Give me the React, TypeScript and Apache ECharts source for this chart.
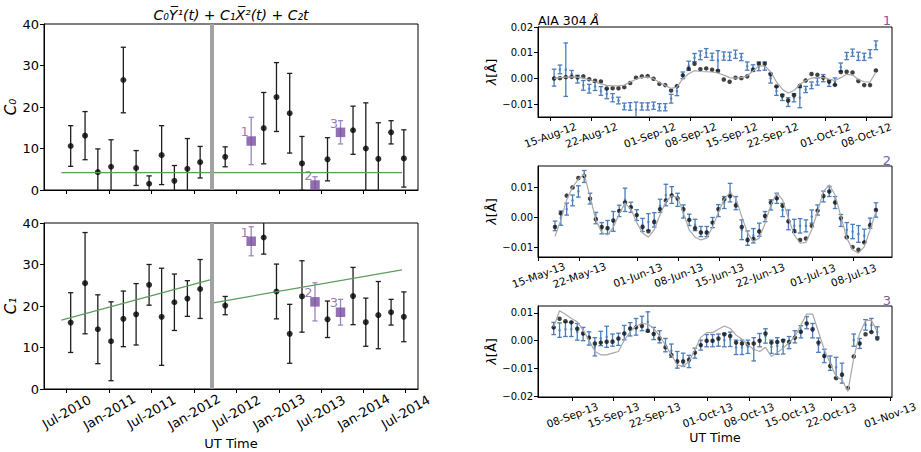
import React, { useEffect, useRef } from 'react';
import * as echarts from 'echarts';

// ---------- Long-term fit coefficients (left panels) ----------
const FIT_DATES = [
  '2010-07-18', '2010-09-18', '2010-11-12', '2011-01-08', '2011-03-02', '2011-04-26',
  '2011-06-21', '2011-08-14', '2011-10-08', '2011-12-03', '2012-01-27', '2012-05-14',
  '2012-10-27', '2012-12-21', '2013-02-16', '2013-04-10', '2013-07-29', '2013-11-16',
  '2014-01-10', '2014-03-05', '2014-04-29', '2014-06-23',
];
const C0 = [10.6, 13.1, 4.3, 5.6, 26.5, 5.3, 1.5, 8.4, 2.2, 5.1, 6.7, 8.0, 14.9, 22.4, 18.5, 6.4, 7.4, 14.4, 10.0, 7.5, 13.9, 7.6];
const C0_ERR = [4.9, 5.8, 5.6, 6.5, 7.9, 4.2, 1.9, 7.1, 3.7, 7.3, 3.8, 2.4, 8.6, 8.3, 9.6, 6.5, 5.2, 5.8, 11.0, 8.7, 2.8, 6.9];
const C1 = [16.0, 25.5, 14.4, 11.5, 16.9, 18.0, 25.1, 17.4, 20.9, 21.8, 24.1, 20.1, 36.5, 23.5, 13.3, 22.3, 16.8, 22.4, 16.1, 17.8, 18.5, 17.4];
const C1_ERR = [7.2, 12.2, 8.3, 9.5, 6.7, 7.4, 4.9, 11.7, 6.8, 4.3, 7.1, 2.2, 4.0, 6.6, 7.1, 8.6, 4.4, 6.9, 5.8, 8.1, 3.1, 6.0];

// highlighted intervals 1, 2, 3
const SEL_DATES = ['2012-09-03', '2013-06-05', '2013-09-23'];
const SEL_TAGS = ['1', '2', '3'];
const SEL_C0 = [11.8, 1.2, 13.9];
const SEL_C0_ERR = [5.7, 2.0, 2.8];
const SEL_C1 = [35.6, 21.0, 18.5];
const SEL_C1_ERR = [3.5, 4.6, 3.1];

// linear trends before / after the break
const TREND_DATES = [['2010-06-08', '2012-03-09'], ['2012-03-17', '2014-06-15']];
const TREND_C0 = [[4.2, 4.2], [4.2, 4.2]];
const TREND_C1 = [[16.6, 26.3], [20.7, 28.7]];
const BREAK_DATE = '2012-03-15';

const HALF_YEAR_TICKS = [
  '2010-07-01', '2011-01-01', '2011-07-01', '2012-01-01', '2012-07-01',
  '2013-01-01', '2013-07-01', '2014-01-01', '2014-07-01',
];

// ---------- Daily wavelength shifts (right panels) ----------
const P1_TICKS = ['2012-08-15', '2012-08-22', '2012-09-01', '2012-09-08', '2012-09-15', '2012-09-22', '2012-10-01', '2012-10-08'];
const P1_OBS = [0.0000, 0.0001, 0.0005, 0.0006, 0.0005, 0.0008, -0.0003, -0.0009, -0.0012, -0.0039,
  -0.0038, -0.0038, -0.0034, -0.0018, 0.0003, 0.0008, 0.0009, -0.0001, -0.0021, -0.0026,
  -0.0047, -0.0030, 0.0012, 0.0038, 0.0057, 0.0036, 0.0039, 0.0034, 0.0029, -0.0004,
  -0.0013, 0.0003, 0.0001, 0.0008, 0.0034, 0.0057, 0.0057, 0.0016, -0.0031, -0.0066,
  -0.0086, -0.0065, -0.0029, -0.0008, 0.0017, 0.0014, 0.0003, -0.0012, -0.0025, 0.0025,
  0.0026, 0.0023, -0.0010, -0.0026, -0.0026, 0.0031];
const P1_MODEL = [0.0000, 0.0003, 0.0005, 0.0006, 0.0005, 0.0001, -0.0005, -0.0013, -0.0021, -0.0027,
  -0.0029, -0.0029, -0.0026, -0.0014, -0.0003, 0.0004, 0.0005, -0.0001, -0.0016, -0.0027,
  -0.0039, -0.0034, -0.0001, 0.0018, 0.0030, 0.0027, 0.0026, 0.0025, 0.0021, 0.0013,
  0.0003, 0.0001, 0.0003, 0.0010, 0.0029, 0.0049, 0.0049, 0.0026, -0.0013, -0.0042,
  -0.0057, -0.0047, -0.0023, -0.0008, 0.0001, 0.0004, 0.0003, -0.0003, -0.0008, 0.0003,
  0.0016, 0.0013, -0.0004, -0.0013, -0.0014, 0.0025];
const P1_MEAS = [0.0003, 0.0035, 0.0034, 0.0018, -0.0003, -0.0027, -0.0040, -0.0031, -0.0049, -0.0060,
  -0.0075, -0.0086, -0.0109, -0.0109, -0.0121, -0.0109, -0.0109, -0.0106, -0.0112, -0.0112,
  -0.0079, -0.0049, 0.0012, 0.0049, 0.0081, 0.0090, 0.0099, 0.0084, 0.0070, 0.0087,
  0.0086, 0.0094, 0.0083, 0.0048, 0.0040, 0.0047, 0.0048, 0.0001, -0.0049, -0.0074,
  -0.0092, -0.0075, -0.0075, -0.0043, -0.0027, -0.0012, 0.0001, -0.0018, -0.0012, 0.0044,
  0.0087, 0.0100, 0.0086, 0.0084, 0.0096, 0.0129];
const P1_MEAS_ERR = [0.0033, 0.0017, 0.0104, 0.0013, 0.0015, 0.0019, 0.0017, 0.0016, 0.0017, 0.0019,
  0.0016, 0.0013, 0.0013, 0.0015, 0.0029, 0.0014, 0.0014, 0.0014, 0.0014, 0.0014,
  0.0017, 0.0018, 0.0013, 0.0018, 0.0016, 0.0017, 0.0017, 0.0014, 0.0038, 0.0016,
  0.0016, 0.0016, 0.0014, 0.0016, 0.0013, 0.0017, 0.0016, 0.0019, 0.0017, 0.0012,
  0.0017, 0.0016, 0.0039, 0.0012, 0.0013, 0.0014, 0.0014, 0.0013, 0.0014, 0.0016,
  0.0014, 0.0014, 0.0016, 0.0014, 0.0016, 0.0017];

const P2_TICKS = ['2013-05-15', '2013-05-22', '2013-06-01', '2013-06-08', '2013-06-15', '2013-06-22', '2013-07-01', '2013-07-08'];
const P2_OBS = [-0.0033, 0.0013, 0.0072, 0.0099, 0.0131, 0.0138, 0.0062, -0.0007, -0.0033, -0.0037,
  -0.0011, 0.0021, 0.0049, 0.0033, 0.0007, -0.0033, -0.0047, -0.0016, 0.0027, 0.0056,
  0.0073, 0.0063, 0.0027, -0.0009, -0.0037, -0.0051, -0.0051, -0.0018, 0.0027, 0.0060,
  0.0071, 0.0039, -0.0033, -0.0076, -0.0073, -0.0048, 0.0004, 0.0049, 0.0063, 0.0038,
  -0.0014, -0.0046, -0.0076, -0.0071, -0.0029, 0.0022, 0.0071, 0.0086, 0.0049, -0.0003,
  -0.0067, -0.0100, -0.0109, -0.0084, -0.0027, 0.0024];
const P2_MODEL = [-0.0064, -0.0009, 0.0058, 0.0100, 0.0127, 0.0144, 0.0069, -0.0009, -0.0051, -0.0059,
  -0.0033, 0.0011, 0.0047, 0.0027, -0.0018, -0.0053, -0.0067, -0.0042, 0.0008, 0.0052,
  0.0071, 0.0067, 0.0013, -0.0042, -0.0067, -0.0076, -0.0070, -0.0033, 0.0016, 0.0060,
  0.0082, 0.0063, 0.0002, -0.0053, -0.0081, -0.0070, -0.0020, 0.0041, 0.0082, 0.0058,
  -0.0003, -0.0059, -0.0087, -0.0084, -0.0042, 0.0019, 0.0086, 0.0108, 0.0074, 0.0002,
  -0.0070, -0.0109, -0.0120, -0.0098, -0.0042, 0.0019];
const P2_MEAS = [-0.0029, -0.0003, 0.0027, 0.0056, 0.0086, 0.0136, 0.0062, -0.0003, -0.0037, -0.0033,
  -0.0014, 0.0021, 0.0058, 0.0033, 0.0007, -0.0026, -0.0016, -0.0009, 0.0038, 0.0074,
  0.0074, 0.0058, 0.0019, -0.0009, -0.0026, -0.0048, -0.0048, -0.0018, 0.0022, 0.0049,
  0.0082, 0.0047, -0.0042, -0.0070, -0.0062, -0.0042, 0.0002, 0.0041, 0.0063, 0.0024,
  -0.0009, -0.0029, -0.0029, -0.0029, 0.0002, 0.0024, 0.0069, 0.0086, 0.0049, -0.0011,
  -0.0042, -0.0048, -0.0056, -0.0062, -0.0020, 0.0024];
const P2_MEAS_ERR = [0.0016, 0.0024, 0.0020, 0.0018, 0.0019, 0.0020, 0.0018, 0.0019, 0.0019, 0.0022,
  0.0033, 0.0019, 0.0039, 0.0017, 0.0018, 0.0022, 0.0028, 0.0024, 0.0022, 0.0036,
  0.0028, 0.0022, 0.0022, 0.0019, 0.0019, 0.0017, 0.0017, 0.0017, 0.0020, 0.0020,
  0.0031, 0.0022, 0.0033, 0.0024, 0.0024, 0.0022, 0.0017, 0.0017, 0.0017, 0.0022,
  0.0033, 0.0022, 0.0024, 0.0020, 0.0022, 0.0017, 0.0018, 0.0017, 0.0020, 0.0020,
  0.0024, 0.0024, 0.0028, 0.0022, 0.0017, 0.0024];

const P3_TICKS = ['2013-09-08', '2013-09-15', '2013-09-22', '2013-10-01', '2013-10-08', '2013-10-15', '2013-10-22', '2013-11-01'];
const P3_OBS = [0.0048, 0.0079, 0.0070, 0.0066, 0.0043, 0.0026, 0.0011, -0.0010, -0.0007, -0.0004,
  -0.0004, 0.0008, 0.0026, 0.0044, 0.0048, 0.0053, 0.0036, 0.0024, 0.0008, -0.0024,
  -0.0051, -0.0075, -0.0075, -0.0069, -0.0043, -0.0016, 0.0000, 0.0000, 0.0008, 0.0023,
  0.0017, -0.0007, -0.0010, -0.0012, -0.0010, 0.0000, 0.0026, -0.0007, -0.0005, 0.0000,
  -0.0005, 0.0011, 0.0032, 0.0062, 0.0041, -0.0007, -0.0055, -0.0091, -0.0135, -0.0123,
  -0.0171, -0.0057, -0.0010, 0.0023, 0.0031, 0.0008];
const P3_MODEL = [0.0050, 0.0108, 0.0095, 0.0080, 0.0068, 0.0038, 0.0002, -0.0039, -0.0051, -0.0051,
  -0.0045, -0.0039, 0.0002, 0.0032, 0.0053, 0.0062, 0.0060, 0.0044, 0.0017, -0.0016,
  -0.0051, -0.0087, -0.0093, -0.0075, -0.0033, 0.0012, 0.0029, 0.0029, 0.0041, 0.0053,
  0.0044, 0.0020, 0.0005, -0.0016, -0.0031, -0.0039, -0.0024, -0.0057, -0.0043, -0.0027,
  -0.0007, 0.0014, 0.0056, 0.0096, 0.0096, 0.0032, -0.0033, -0.0081, -0.0129, -0.0141,
  -0.0183, -0.0063, 0.0026, 0.0072, 0.0074, 0.0032];
const P3_MEAS: (number | null)[] = [0.0044, 0.0038, 0.0041, 0.0041, 0.0032, 0.0024, 0.0008, -0.0022, 0.0008, 0.0014,
  0.0002, 0.0005, 0.0029, 0.0041, 0.0050, 0.0062, 0.0068, 0.0026, 0.0014, -0.0016,
  -0.0036, -0.0069, -0.0069, -0.0075, -0.0045, -0.0016, 0.0000, 0.0000, 0.0002, 0.0002,
  0.0005, -0.0024, -0.0024, -0.0022, -0.0031, 0.0002, 0.0017, -0.0022, -0.0019, -0.0022,
  -0.0007, 0.0014, 0.0032, 0.0065, 0.0036, -0.0016, -0.0055, -0.0081, -0.0096, -0.0117,
  null, 0.0002, -0.0010, 0.0057, 0.0056, 0.0032];
const P3_MEAS_ERR = [0.0022, 0.0026, 0.0026, 0.0026, 0.0030, 0.0024, 0.0024, 0.0033, 0.0026, 0.0038,
  0.0022, 0.0022, 0.0026, 0.0024, 0.0030, 0.0026, 0.0036, 0.0022, 0.0022, 0.0024,
  0.0024, 0.0030, 0.0024, 0.0022, 0.0018, 0.0018, 0.0022, 0.0022, 0.0022, 0.0024,
  0.0026, 0.0026, 0.0026, 0.0024, 0.0042, 0.0024, 0.0026, 0.0024, 0.0030, 0.0026,
  0.0022, 0.0022, 0.0022, 0.0022, 0.0026, 0.0026, 0.0024, 0.0026, 0.0036, 0.0036,
  0.0000, 0.0022, 0.0018, 0.0019, 0.0024, 0.0018];

// ---------- helpers ----------
const DAY = 86400000;
const MONTHS = ['Jan', 'Feb', 'Mar', 'Apr', 'May', 'Jun', 'Jul', 'Aug', 'Sep', 'Oct', 'Nov', 'Dec'];
const utc = (s: string) => {
  const [y, m, d] = s.split('-').map(Number);
  return Date.UTC(y, m - 1, d);
};
const pad2 = (n: number) => (n < 10 ? '0' + n : '' + n);
const monYear = (v: number) => {
  const d = new Date(v);
  return `${MONTHS[d.getUTCMonth()]}-${d.getUTCFullYear()}`;
};
const dayMonYY = (v: number) => {
  const d = new Date(v);
  return `${pad2(d.getUTCDate())}-${MONTHS[d.getUTCMonth()]}-${pad2(d.getUTCFullYear() % 100)}`;
};
const lambdaFmt = (v: number) => {
  const s = Math.abs(v) < 1e-9 ? '0.00' : v.toFixed(2);
  return s.replace('-', '\u2212');
};

const FONT = 'DejaVu Sans';
const BLUE = '#4a7dbb';
const PURPLE = '#774c9d';
const PURPLE_BAR = '#9d86c2';
const PURPLE_TEXT = '#7c5ca3';
const GREEN = '#5c9c5c';

// vertical error bars with caps, positioned through the axis scales
const errorBars = (color: string, cap: number, width: number) => (_p: any, api: any) => {
  const x = api.value(0);
  const lo = api.coord([x, api.value(1)]);
  const hi = api.coord([x, api.value(2)]);
  const style = { stroke: color, lineWidth: width, fill: 'none' };
  return {
    type: 'group',
    children: [
      { type: 'line', shape: { x1: lo[0], y1: lo[1], x2: hi[0], y2: hi[1] }, style },
      { type: 'line', shape: { x1: lo[0] - cap, y1: lo[1], x2: lo[0] + cap, y2: lo[1] }, style },
      { type: 'line', shape: { x1: hi[0] - cap, y1: hi[1], x2: hi[0] + cap, y2: hi[1] }, style },
    ],
  };
};

const barSeries = (xi: number, data: number[][], color: string, cap: number, width: number) => ({
  type: 'custom',
  xAxisIndex: xi,
  yAxisIndex: xi,
  clip: true,
  silent: true,
  renderItem: errorBars(color, cap, width),
  encode: { x: 0, y: [1, 2] },
  data,
});

const dailyX = (start: number, i: number) => start + i * DAY;

const App: React.FC = () => {
  const ref = useRef<HTMLDivElement>(null);

  useEffect(() => {
    if (!ref.current) return;
    const chart = echarts.init(ref.current, undefined, { renderer: 'svg' });

    const fitX = FIT_DATES.map(utc);
    const selX = SEL_DATES.map(utc);

    const leftGrids = [
      { left: 44, top: 24, width: 374, height: 166 },
      { left: 44, top: 223, width: 374, height: 166 },
    ];
    const rightGrids = [
      { left: 538, top: 27, width: 354, height: 90 },
      { left: 538, top: 166, width: 354, height: 91 },
      { left: 538, top: 306, width: 354, height: 91 },
    ];
    const grid = [...leftGrids, ...rightGrids].map((g) => ({
      ...g,
      show: true,
      borderColor: '#000',
      borderWidth: 1,
      backgroundColor: 'transparent',
      containLabel: false,
      outerBoundsMode: 'none',
    }));

    const axisLine = { show: true, onZero: false, lineStyle: { color: '#000', width: 1 } };
    const tick = (vals: number[]) => ({
      show: true,
      inside: false,
      length: 4,
      customValues: vals,
      lineStyle: { color: '#000', width: 1 },
    });

    const halfYears = HALF_YEAR_TICKS.map(utc);
    const leftMin = utc('2010-03-25');
    const leftMax = utc('2014-08-23');

    const rightPanels = [
      { ticks: P1_TICKS.map(utc), min: Date.UTC(2012, 7, 12, 22), max: Date.UTC(2012, 9, 12, 10), start: Date.UTC(2012, 7, 15, 16), ymin: -0.015, ymax: 0.02, yt: [-0.01, 0, 0.01, 0.02], obs: P1_OBS, model: P1_MODEL, meas: P1_MEAS as (number | null)[], err: P1_MEAS_ERR },
      { ticks: P2_TICKS.map(utc), min: Date.UTC(2013, 4, 14, 22), max: Date.UTC(2013, 6, 14, 14), start: Date.UTC(2013, 4, 17, 20), ymin: -0.0133, ymax: 0.0171, yt: [-0.01, 0, 0.01], obs: P2_OBS, model: P2_MODEL, meas: P2_MEAS as (number | null)[], err: P2_MEAS_ERR },
      { ticks: P3_TICKS.map(utc), min: Date.UTC(2013, 8, 2, 4), max: Date.UTC(2013, 10, 1, 8), start: Date.UTC(2013, 8, 4, 20), ymin: -0.0203, ymax: 0.0125, yt: [-0.02, -0.01, 0, 0.01], obs: P3_OBS, model: P3_MODEL, meas: P3_MEAS, err: P3_MEAS_ERR },
    ];

    // time is carried as epoch milliseconds on value axes
    const xAxis: any[] = [
      {
        type: 'value', gridIndex: 0, min: leftMin, max: leftMax, scale: true,
        axisLine, axisTick: tick(halfYears), splitLine: { show: false },
        axisLabel: { show: false, customValues: halfYears },
      },
      {
        type: 'value', gridIndex: 1, min: leftMin, max: leftMax, scale: true,
        axisLine, axisTick: tick(halfYears), splitLine: { show: false },
        axisLabel: {
          show: true, customValues: halfYears, formatter: (v: number) => monYear(v),
          rotate: 30, align: 'center', verticalAlign: 'middle', margin: 23,
          fontSize: 13, color: '#000', fontFamily: FONT,
        },
        name: 'UT Time', nameLocation: 'middle', nameGap: 48,
        nameTextStyle: { fontSize: 13, color: '#000', fontFamily: FONT },
      },
      ...rightPanels.map((p, i) => ({
        type: 'value', gridIndex: 2 + i, min: p.min, max: p.max, scale: true,
        axisLine, axisTick: tick(p.ticks), splitLine: { show: false },
        axisLabel: {
          show: true, customValues: p.ticks, formatter: (v: number) => dayMonYY(v),
          rotate: 20, align: 'center', verticalAlign: 'middle', margin: 18,
          fontSize: 10.5, color: '#000', fontFamily: FONT,
        },
        ...(i === 2
          ? { name: 'UT Time', nameLocation: 'middle', nameGap: 33, nameTextStyle: { fontSize: 12.5, color: '#000', fontFamily: FONT } }
          : {}),
      })),
    ];

    const leftY = (gi: number, name: string) => ({
      type: 'value', gridIndex: gi, min: 0, max: 40, interval: 10,
      axisLine, axisTick: { show: true, inside: false, length: 4, lineStyle: { color: '#000' } },
      splitLine: { show: false },
      axisLabel: { fontSize: 13, color: '#000', margin: 5, fontFamily: FONT },
      name, nameLocation: 'middle', nameGap: 23,
      nameTextStyle: { fontSize: 15, color: '#000', fontStyle: 'italic', fontFamily: FONT },
    });

    const yAxis: any[] = [
      leftY(0, 'C\u2080'),
      leftY(1, 'C\u2081'),
      ...rightPanels.map((p, i) => ({
        type: 'value', gridIndex: 2 + i, min: p.ymin, max: p.ymax,
        axisLine, axisTick: tick(p.yt), splitLine: { show: false },
        axisLabel: { customValues: p.yt, formatter: lambdaFmt, fontSize: 10, color: '#000', margin: 5, fontFamily: FONT },
        name: '{i|\u03bb}[\u00c5]', nameLocation: 'middle', nameGap: 34,
        nameTextStyle: { fontSize: 13, color: '#000', fontFamily: FONT, rich: { i: { fontSize: 13, fontStyle: 'italic', fontFamily: FONT, color: '#000' } } },
      })),
    ];

    const series: any[] = [];

    // left panels: C0 (grid 0) and C1 (grid 1)
    const leftSets = [
      { vals: C0, errs: C0_ERR, sel: SEL_C0, selErr: SEL_C0_ERR, trend: TREND_C0 },
      { vals: C1, errs: C1_ERR, sel: SEL_C1, selErr: SEL_C1_ERR, trend: TREND_C1 },
    ];
    leftSets.forEach((s, gi) => {
      s.trend.forEach((seg, k) => {
        series.push({
          type: 'line', xAxisIndex: gi, yAxisIndex: gi, showSymbol: false, silent: true,
          lineStyle: { color: GREEN, width: 1.2 },
          data: [[utc(TREND_DATES[k][0]), seg[0]], [utc(TREND_DATES[k][1]), seg[1]]],
          ...(k === 0
            ? {
                markLine: {
                  silent: true, symbol: ['none', 'none'], label: { show: false },
                  lineStyle: { color: '#a2a2a2', width: 4, type: 'solid' },
                  data: [{ xAxis: utc(BREAK_DATE) }],
                },
              }
            : {}),
        });
      });
      series.push(barSeries(gi, fitX.map((x, i) => [x, s.vals[i] - s.errs[i], s.vals[i] + s.errs[i]]), '#1e1e1e', 2.6, 1.3));
      series.push({
        type: 'scatter', xAxisIndex: gi, yAxisIndex: gi, symbol: 'circle', symbolSize: 6, silent: true,
        itemStyle: { color: '#000' },
        data: fitX.map((x, i) => [x, s.vals[i]]),
      });
      series.push(barSeries(gi, selX.map((x, i) => [x, s.sel[i] - s.selErr[i], s.sel[i] + s.selErr[i]]), PURPLE_BAR, 2.6, 1.3));
      series.push({
        type: 'scatter', xAxisIndex: gi, yAxisIndex: gi, symbol: 'rect', symbolSize: 9.5, silent: true,
        itemStyle: { color: PURPLE },
        label: {
          show: true, position: [-6, -11], align: 'left', verticalAlign: 'top',
          formatter: (p: any) => SEL_TAGS[p.dataIndex], color: PURPLE_TEXT, fontSize: 13, fontFamily: FONT,
        },
        data: selX.map((x, i) => [x, s.sel[i]]),
      });
    });

    // right panels: daily shifts
    rightPanels.forEach((p, i) => {
      const gi = 2 + i;
      series.push({
        type: 'line', xAxisIndex: gi, yAxisIndex: gi, showSymbol: false, silent: true,
        lineStyle: { color: '#a8a8a8', width: 1.2 },
        data: p.model.map((v, k) => [dailyX(p.start, k), v]),
      });
      const measPts: number[][] = [];
      p.meas.forEach((v, k) => {
        if (v !== null) measPts.push([dailyX(p.start, k), v - p.err[k], v + p.err[k], v]);
      });
      series.push(barSeries(gi, measPts.map((d) => [d[0], d[1], d[2]]), BLUE, 2.3, 1.3));
      series.push({
        type: 'scatter', xAxisIndex: gi, yAxisIndex: gi, symbol: 'circle', symbolSize: 2.6, silent: true,
        itemStyle: { color: BLUE },
        data: measPts.map((d) => [d[0], d[3]]),
      });
      series.push({
        type: 'scatter', xAxisIndex: gi, yAxisIndex: gi, symbol: 'circle', symbolSize: 4.5, silent: true,
        itemStyle: { color: '#111' },
        data: p.obs.map((v, k) => [dailyX(p.start, k), v]),
      });
    });

    const graphic: any[] = [
      {
        type: 'text', x: 231, y: 15, silent: true,
        style: {
          text: 'C\u2080Y\u0305\u00b9(t) + C\u2081X\u0305\u00b2(t) + C\u2082t',
          fontSize: 14, fontStyle: 'italic', fontFamily: FONT, fill: '#000',
          textAlign: 'center', textVerticalAlign: 'middle',
        },
      },
      {
        type: 'text', x: 538, y: 20, silent: true,
        style: {
          text: 'AIA 304 {i|\u00c5}', fontSize: 12.5, fontFamily: FONT, fill: '#000',
          textAlign: 'left', textVerticalAlign: 'middle',
          rich: { i: { fontSize: 12.5, fontStyle: 'italic', fontFamily: FONT, fill: '#000' } },
        },
      },
      ...['1', '2', '3'].map((t, i) => ({
        type: 'text', x: 887, y: [20, 160, 300][i], silent: true,
        style: { text: t, fontSize: 13, fontFamily: FONT, fill: PURPLE_TEXT, textAlign: 'center', textVerticalAlign: 'middle' },
      })),
    ];

    chart.setOption({
      animation: false,
      backgroundColor: '#fff',
      textStyle: { fontFamily: FONT, color: '#000' },
      grid,
      xAxis,
      yAxis,
      series,
      graphic,
    });

    return () => chart.dispose();
  }, []);

  return (
    <div
      ref={ref}
      style={{ position: 'fixed', left: 0, top: 0, width: 921, height: 452, background: '#fff' }}
    />
  );
};

export default App;
